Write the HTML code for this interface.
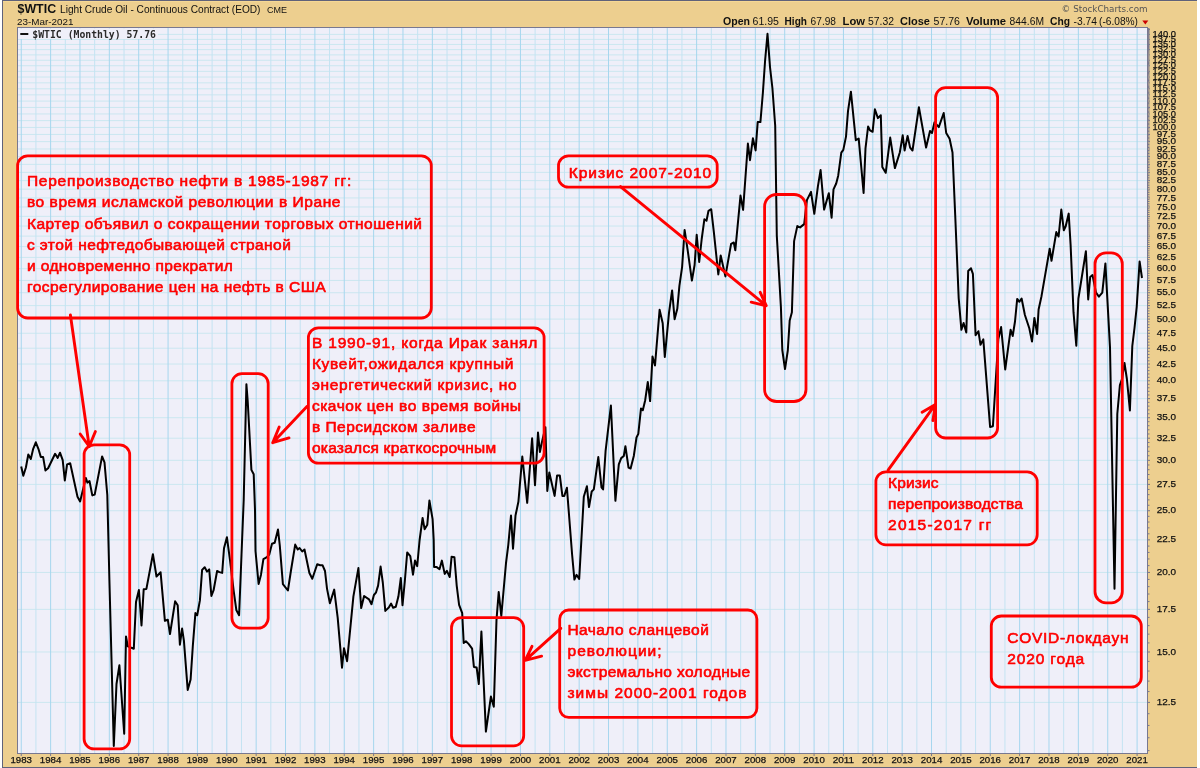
<!DOCTYPE html><html><head><meta charset="utf-8"><title>$WTIC Light Crude Oil</title><style>
html,body{margin:0;padding:0;background:#fff;width:1200px;height:768px;overflow:hidden}
svg{display:block}
.ax{font-family:"Liberation Sans",Arial,sans-serif;font-size:9.3px;fill:#111;stroke:#111;stroke-width:0.25px}
.hd{font-family:"Liberation Sans",Arial,sans-serif;fill:#111}
.ann{font-family:"Liberation Sans",Arial,sans-serif;font-weight:normal;font-size:15.5px;fill:#ff0000;stroke:#ff0000;stroke-width:0.62px;stroke-linejoin:round}
.box{fill:none;stroke:#ff0000;stroke-width:2.8}
.arr{fill:none;stroke:#ff0000;stroke-width:2.9;stroke-linecap:round;stroke-linejoin:round}
</style></head><body>
<svg width="1200" height="768" viewBox="0 0 1200 768">
<rect x="0" y="0" width="1200" height="768" fill="#ffffff"/>
<rect x="2" y="0" width="1195" height="768" fill="#EDCF8F"/>
<rect x="3" y="1" width="1194" height="1" fill="#F6D894"/>
<rect x="2" y="0" width="1195" height="1" fill="#60627a"/>
<rect x="2" y="767" width="1195" height="1" fill="#60627a"/>
<rect x="2" y="0" width="1" height="768" fill="#60627a"/>
<rect x="17" y="27" width="1130" height="726" fill="#EFEFF9"/>
<path d="M18 702.40H1147M18 651.99H1147M18 609.37H1147M18 572.44H1147M18 539.88H1147M18 510.74H1147M18 484.39H1147M18 460.33H1147M18 438.20H1147M18 417.71H1147M18 398.63H1147M18 380.79H1147M18 364.03H1147M18 348.22H1147M18 333.27H1147M18 319.09H1147M18 305.60H1147M18 292.74H1147M18 280.45H1147M18 268.68H1147M18 257.39H1147M18 246.55H1147M18 236.11H1147M18 226.06H1147M18 216.35H1147M18 206.98H1147M18 197.91H1147M18 189.13H1147M18 180.63H1147M18 172.37H1147M18 164.36H1147M18 156.57H1147M18 148.99H1147M18 141.62H1147M18 134.43H1147M18 127.43H1147M18 120.61H1147M18 113.94H1147M18 107.44H1147M18 101.08H1147M18 94.87H1147M18 88.79H1147M18 82.84H1147M18 77.02H1147M18 71.32H1147M18 65.74H1147M18 60.26H1147M18 54.89H1147M18 49.62H1147M18 44.46H1147M18 39.38H1147M18 34.40H1147" stroke="#CBE7F0" stroke-width="1" fill="none"/>
<path d="M35.93 28V753M65.30 28V753M94.66 28V753M124.02 28V753M153.39 28V753M182.75 28V753M212.12 28V753M241.48 28V753M270.84 28V753M300.21 28V753M329.57 28V753M358.94 28V753M388.30 28V753M417.66 28V753M447.03 28V753M476.39 28V753M505.76 28V753M535.12 28V753M564.48 28V753M593.85 28V753M623.21 28V753M652.58 28V753M681.94 28V753M711.30 28V753M740.67 28V753M770.03 28V753M799.40 28V753M828.76 28V753M858.12 28V753M887.49 28V753M916.85 28V753M946.22 28V753M975.58 28V753M1004.94 28V753M1034.31 28V753M1063.67 28V753M1093.04 28V753M1122.40 28V753" stroke="#C4E3F2" stroke-width="1" fill="none"/>
<path d="M21.25 28V753M50.61 28V753M79.98 28V753M109.34 28V753M138.71 28V753M168.07 28V753M197.43 28V753M226.80 28V753M256.16 28V753M285.53 28V753M314.89 28V753M344.25 28V753M373.62 28V753M402.98 28V753M432.35 28V753M461.71 28V753M491.07 28V753M520.44 28V753M549.80 28V753M579.17 28V753M608.53 28V753M637.89 28V753M667.26 28V753M696.62 28V753M725.99 28V753M755.35 28V753M784.71 28V753M814.08 28V753M843.44 28V753M872.81 28V753M902.17 28V753M931.53 28V753M960.90 28V753M990.26 28V753M1019.63 28V753M1048.99 28V753M1078.35 28V753M1107.72 28V753M1137.08 28V753" stroke="#A6D6EE" stroke-width="1" fill="none"/>
<rect x="17.5" y="27.5" width="1130" height="726" fill="none" stroke="#787890" stroke-width="1"/>
<path d="M1148 750.61h1.5M1148 737.75h1.5M1148 725.46h1.5M1148 713.69h1.5M1148 702.40h2M1148 691.56h1.5M1148 681.12h1.5M1148 671.06h1.5M1148 661.36h1.5M1148 651.99h2M1148 642.92h1.5M1148 634.14h1.5M1148 625.63h1.5M1148 617.38h1.5M1148 609.37h2M1148 601.58h1.5M1148 594.00h1.5M1148 586.63h1.5M1148 579.44h1.5M1148 572.44h2M1148 565.62h1.5M1148 558.95h1.5M1148 552.45h1.5M1148 546.09h1.5M1148 539.88h2M1148 533.80h1.5M1148 527.85h1.5M1148 522.03h1.5M1148 516.33h1.5M1148 510.74h2M1148 505.27h1.5M1148 499.90h1.5M1148 494.63h1.5M1148 489.47h1.5M1148 484.39h2M1148 479.41h1.5M1148 474.52h1.5M1148 469.71h1.5M1148 464.98h1.5M1148 460.33h2M1148 455.76h1.5M1148 451.27h1.5M1148 446.84h1.5M1148 442.49h1.5M1148 438.20h2M1148 433.98h1.5M1148 429.82h1.5M1148 425.73h1.5M1148 421.69h1.5M1148 417.71h2M1148 413.79h1.5M1148 409.92h1.5M1148 406.11h1.5M1148 402.35h1.5M1148 398.63h2M1148 394.97h1.5M1148 391.36h1.5M1148 387.79h1.5M1148 384.27h1.5M1148 380.79h2M1148 377.35h1.5M1148 373.96h1.5M1148 370.61h1.5M1148 367.30h1.5M1148 364.03h2M1148 360.79h1.5M1148 357.60h1.5M1148 354.44h1.5M1148 351.31h1.5M1148 348.22h2M1148 345.17h1.5M1148 342.14h1.5M1148 339.16h1.5M1148 336.20h1.5M1148 333.27h2M1148 330.38h1.5M1148 327.51h1.5M1148 324.68h1.5M1148 321.87h1.5M1148 319.09h2M1148 316.34h1.5M1148 313.61h1.5M1148 310.92h1.5M1148 308.25h1.5M1148 305.60h2M1148 302.98h1.5M1148 300.38h1.5M1148 297.81h1.5M1148 295.26h1.5M1148 292.74h2M1148 290.23h1.5M1148 287.75h1.5M1148 285.30h1.5M1148 282.86h1.5M1148 280.45h2M1148 278.05h1.5M1148 275.68h1.5M1148 273.32h1.5M1148 270.99h1.5M1148 268.68h2M1148 266.38h1.5M1148 264.11h1.5M1148 261.85h1.5M1148 259.61h1.5M1148 257.39h2M1148 255.19h1.5M1148 253.00h1.5M1148 250.83h1.5M1148 248.68h1.5M1148 246.55h2M1148 244.43h1.5M1148 242.32h1.5M1148 240.24h1.5M1148 238.17h1.5M1148 236.11h2M1148 234.07h1.5M1148 232.04h1.5M1148 230.03h1.5M1148 228.04h1.5M1148 226.06h2M1148 224.09h1.5M1148 222.13h1.5M1148 220.19h1.5M1148 218.27h1.5M1148 216.35h2M1148 214.45h1.5M1148 212.56h1.5M1148 210.69h1.5M1148 208.83h1.5M1148 206.98h2M1148 205.14h1.5M1148 203.32h1.5M1148 201.50h1.5M1148 199.70h1.5M1148 197.91h2M1148 196.13h1.5M1148 194.37h1.5M1148 192.61h1.5M1148 190.87h1.5M1148 189.13h2M1148 187.41h1.5M1148 185.70h1.5M1148 184.00h1.5M1148 182.31h1.5M1148 180.63h2M1148 178.95h1.5M1148 177.29h1.5M1148 175.64h1.5M1148 174.00h1.5M1148 172.37h2M1148 170.75h1.5M1148 169.14h1.5M1148 167.53h1.5M1148 165.94h1.5M1148 164.36h2M1148 162.78h1.5M1148 161.21h1.5M1148 159.66h1.5M1148 158.11h1.5M1148 156.57h2M1148 155.03h1.5M1148 153.51h1.5M1148 152.00h1.5M1148 150.49h1.5M1148 148.99h2M1148 147.50h1.5M1148 146.02h1.5M1148 144.54h1.5M1148 143.08h1.5M1148 141.62h2M1148 140.17h1.5M1148 138.72h1.5M1148 137.29h1.5M1148 135.86h1.5M1148 134.43h2M1148 133.02h1.5M1148 131.61h1.5M1148 130.21h1.5M1148 128.82h1.5M1148 127.43h2M1148 126.06h1.5M1148 124.68h1.5M1148 123.32h1.5M1148 121.96h1.5M1148 120.61h2M1148 119.26h1.5M1148 117.92h1.5M1148 116.59h1.5M1148 115.26h1.5M1148 113.94h2M1148 112.63h1.5M1148 111.32h1.5M1148 110.02h1.5M1148 108.73h1.5M1148 107.44h2M1148 106.15h1.5M1148 104.88h1.5M1148 103.61h1.5M1148 102.34h1.5M1148 101.08h2M1148 99.83h1.5M1148 98.58h1.5M1148 97.34h1.5M1148 96.10h1.5M1148 94.87h2M1148 93.64h1.5M1148 92.42h1.5M1148 91.21h1.5M1148 90.00h1.5M1148 88.79h2M1148 87.59h1.5M1148 86.40h1.5M1148 85.21h1.5M1148 84.02h1.5M1148 82.84h2M1148 81.67h1.5M1148 80.50h1.5M1148 79.34h1.5M1148 78.18h1.5M1148 77.02h2M1148 75.87h1.5M1148 74.73h1.5M1148 73.59h1.5M1148 72.45h1.5M1148 71.32h2M1148 70.19h1.5M1148 69.07h1.5M1148 67.96h1.5M1148 66.84h1.5M1148 65.74h2M1148 64.63h1.5M1148 63.53h1.5M1148 62.44h1.5M1148 61.35h1.5M1148 60.26h2M1148 59.18h1.5M1148 58.10h1.5M1148 57.03h1.5M1148 55.96h1.5M1148 54.89h2M1148 53.83h1.5M1148 52.77h1.5M1148 51.72h1.5M1148 50.67h1.5M1148 49.62h2M1148 48.58h1.5M1148 47.54h1.5M1148 46.51h1.5M1148 45.48h1.5M1148 44.46h2M1148 43.43h1.5M1148 42.41h1.5M1148 41.40h1.5M1148 40.39h1.5M1148 39.38h2M1148 38.38h1.5M1148 37.38h1.5M1148 36.38h1.5M1148 35.39h1.5M1148 34.40h2M1148 33.41h1.5M1148 32.43h1.5M1148 31.45h1.5M1148 30.48h1.5M1148 29.51h2M1148 28.54h1.5" stroke="#787890" stroke-width="1" fill="none"/>
<text class="ax" x="1176" y="705.00" text-anchor="end" textLength="19.3" lengthAdjust="spacingAndGlyphs">12.5</text><text class="ax" x="1176" y="654.59" text-anchor="end" textLength="19.3" lengthAdjust="spacingAndGlyphs">15.0</text><text class="ax" x="1176" y="611.97" text-anchor="end" textLength="19.3" lengthAdjust="spacingAndGlyphs">17.5</text><text class="ax" x="1176" y="575.04" text-anchor="end" textLength="19.3" lengthAdjust="spacingAndGlyphs">20.0</text><text class="ax" x="1176" y="542.48" text-anchor="end" textLength="19.3" lengthAdjust="spacingAndGlyphs">22.5</text><text class="ax" x="1176" y="513.34" text-anchor="end" textLength="19.3" lengthAdjust="spacingAndGlyphs">25.0</text><text class="ax" x="1176" y="486.99" text-anchor="end" textLength="19.3" lengthAdjust="spacingAndGlyphs">27.5</text><text class="ax" x="1176" y="462.93" text-anchor="end" textLength="19.3" lengthAdjust="spacingAndGlyphs">30.0</text><text class="ax" x="1176" y="440.80" text-anchor="end" textLength="19.3" lengthAdjust="spacingAndGlyphs">32.5</text><text class="ax" x="1176" y="420.31" text-anchor="end" textLength="19.3" lengthAdjust="spacingAndGlyphs">35.0</text><text class="ax" x="1176" y="401.23" text-anchor="end" textLength="19.3" lengthAdjust="spacingAndGlyphs">37.5</text><text class="ax" x="1176" y="383.39" text-anchor="end" textLength="19.3" lengthAdjust="spacingAndGlyphs">40.0</text><text class="ax" x="1176" y="366.63" text-anchor="end" textLength="19.3" lengthAdjust="spacingAndGlyphs">42.5</text><text class="ax" x="1176" y="350.82" text-anchor="end" textLength="19.3" lengthAdjust="spacingAndGlyphs">45.0</text><text class="ax" x="1176" y="335.87" text-anchor="end" textLength="19.3" lengthAdjust="spacingAndGlyphs">47.5</text><text class="ax" x="1176" y="321.69" text-anchor="end" textLength="19.3" lengthAdjust="spacingAndGlyphs">50.0</text><text class="ax" x="1176" y="308.20" text-anchor="end" textLength="19.3" lengthAdjust="spacingAndGlyphs">52.5</text><text class="ax" x="1176" y="295.34" text-anchor="end" textLength="19.3" lengthAdjust="spacingAndGlyphs">55.0</text><text class="ax" x="1176" y="283.05" text-anchor="end" textLength="19.3" lengthAdjust="spacingAndGlyphs">57.5</text><text class="ax" x="1176" y="271.28" text-anchor="end" textLength="19.3" lengthAdjust="spacingAndGlyphs">60.0</text><text class="ax" x="1176" y="259.99" text-anchor="end" textLength="19.3" lengthAdjust="spacingAndGlyphs">62.5</text><text class="ax" x="1176" y="249.15" text-anchor="end" textLength="19.3" lengthAdjust="spacingAndGlyphs">65.0</text><text class="ax" x="1176" y="238.71" text-anchor="end" textLength="19.3" lengthAdjust="spacingAndGlyphs">67.5</text><text class="ax" x="1176" y="228.66" text-anchor="end" textLength="19.3" lengthAdjust="spacingAndGlyphs">70.0</text><text class="ax" x="1176" y="218.95" text-anchor="end" textLength="19.3" lengthAdjust="spacingAndGlyphs">72.5</text><text class="ax" x="1176" y="209.58" text-anchor="end" textLength="19.3" lengthAdjust="spacingAndGlyphs">75.0</text><text class="ax" x="1176" y="200.51" text-anchor="end" textLength="19.3" lengthAdjust="spacingAndGlyphs">77.5</text><text class="ax" x="1176" y="191.73" text-anchor="end" textLength="19.3" lengthAdjust="spacingAndGlyphs">80.0</text><text class="ax" x="1176" y="183.23" text-anchor="end" textLength="19.3" lengthAdjust="spacingAndGlyphs">82.5</text><text class="ax" x="1176" y="174.97" text-anchor="end" textLength="19.3" lengthAdjust="spacingAndGlyphs">85.0</text><text class="ax" x="1176" y="166.96" text-anchor="end" textLength="19.3" lengthAdjust="spacingAndGlyphs">87.5</text><text class="ax" x="1176" y="159.17" text-anchor="end" textLength="19.3" lengthAdjust="spacingAndGlyphs">90.0</text><text class="ax" x="1176" y="151.59" text-anchor="end" textLength="19.3" lengthAdjust="spacingAndGlyphs">92.5</text><text class="ax" x="1176" y="144.22" text-anchor="end" textLength="19.3" lengthAdjust="spacingAndGlyphs">95.0</text><text class="ax" x="1176" y="137.03" text-anchor="end" textLength="19.3" lengthAdjust="spacingAndGlyphs">97.5</text><text class="ax" x="1176" y="130.03" text-anchor="end" textLength="23.4" lengthAdjust="spacingAndGlyphs">100.0</text><text class="ax" x="1176" y="123.21" text-anchor="end" textLength="23.4" lengthAdjust="spacingAndGlyphs">102.5</text><text class="ax" x="1176" y="116.54" text-anchor="end" textLength="23.4" lengthAdjust="spacingAndGlyphs">105.0</text><text class="ax" x="1176" y="110.04" text-anchor="end" textLength="23.4" lengthAdjust="spacingAndGlyphs">107.5</text><text class="ax" x="1176" y="103.68" text-anchor="end" textLength="23.4" lengthAdjust="spacingAndGlyphs">110.0</text><text class="ax" x="1176" y="97.47" text-anchor="end" textLength="23.4" lengthAdjust="spacingAndGlyphs">112.5</text><text class="ax" x="1176" y="91.39" text-anchor="end" textLength="23.4" lengthAdjust="spacingAndGlyphs">115.0</text><text class="ax" x="1176" y="85.44" text-anchor="end" textLength="23.4" lengthAdjust="spacingAndGlyphs">117.5</text><text class="ax" x="1176" y="79.62" text-anchor="end" textLength="23.4" lengthAdjust="spacingAndGlyphs">120.0</text><text class="ax" x="1176" y="73.92" text-anchor="end" textLength="23.4" lengthAdjust="spacingAndGlyphs">122.5</text><text class="ax" x="1176" y="68.34" text-anchor="end" textLength="23.4" lengthAdjust="spacingAndGlyphs">125.0</text><text class="ax" x="1176" y="62.86" text-anchor="end" textLength="23.4" lengthAdjust="spacingAndGlyphs">127.5</text><text class="ax" x="1176" y="57.49" text-anchor="end" textLength="23.4" lengthAdjust="spacingAndGlyphs">130.0</text><text class="ax" x="1176" y="52.22" text-anchor="end" textLength="23.4" lengthAdjust="spacingAndGlyphs">132.5</text><text class="ax" x="1176" y="47.06" text-anchor="end" textLength="23.4" lengthAdjust="spacingAndGlyphs">135.0</text><text class="ax" x="1176" y="41.98" text-anchor="end" textLength="23.4" lengthAdjust="spacingAndGlyphs">137.5</text><text class="ax" x="1176" y="37.00" text-anchor="end" textLength="23.4" lengthAdjust="spacingAndGlyphs">140.0</text>
<path d="M21.25 754v2M50.61 754v2M79.98 754v2M109.34 754v2M138.71 754v2M168.07 754v2M197.43 754v2M226.80 754v2M256.16 754v2M285.53 754v2M314.89 754v2M344.25 754v2M373.62 754v2M402.98 754v2M432.35 754v2M461.71 754v2M491.07 754v2M520.44 754v2M549.80 754v2M579.17 754v2M608.53 754v2M637.89 754v2M667.26 754v2M696.62 754v2M725.99 754v2M755.35 754v2M784.71 754v2M814.08 754v2M843.44 754v2M872.81 754v2M902.17 754v2M931.53 754v2M960.90 754v2M990.26 754v2M1019.63 754v2M1048.99 754v2M1078.35 754v2M1107.72 754v2M1137.08 754v2" stroke="#787890" stroke-width="1" fill="none"/>
<text class="ax" x="10.50" y="763" font-size="10.2" textLength="21.5" lengthAdjust="spacingAndGlyphs">1983</text><text class="ax" x="39.86" y="763" font-size="10.2" textLength="21.5" lengthAdjust="spacingAndGlyphs">1984</text><text class="ax" x="69.23" y="763" font-size="10.2" textLength="21.5" lengthAdjust="spacingAndGlyphs">1985</text><text class="ax" x="98.59" y="763" font-size="10.2" textLength="21.5" lengthAdjust="spacingAndGlyphs">1986</text><text class="ax" x="127.96" y="763" font-size="10.2" textLength="21.5" lengthAdjust="spacingAndGlyphs">1987</text><text class="ax" x="157.32" y="763" font-size="10.2" textLength="21.5" lengthAdjust="spacingAndGlyphs">1988</text><text class="ax" x="186.68" y="763" font-size="10.2" textLength="21.5" lengthAdjust="spacingAndGlyphs">1989</text><text class="ax" x="216.05" y="763" font-size="10.2" textLength="21.5" lengthAdjust="spacingAndGlyphs">1990</text><text class="ax" x="245.41" y="763" font-size="10.2" textLength="21.5" lengthAdjust="spacingAndGlyphs">1991</text><text class="ax" x="274.78" y="763" font-size="10.2" textLength="21.5" lengthAdjust="spacingAndGlyphs">1992</text><text class="ax" x="304.14" y="763" font-size="10.2" textLength="21.5" lengthAdjust="spacingAndGlyphs">1993</text><text class="ax" x="333.50" y="763" font-size="10.2" textLength="21.5" lengthAdjust="spacingAndGlyphs">1994</text><text class="ax" x="362.87" y="763" font-size="10.2" textLength="21.5" lengthAdjust="spacingAndGlyphs">1995</text><text class="ax" x="392.23" y="763" font-size="10.2" textLength="21.5" lengthAdjust="spacingAndGlyphs">1996</text><text class="ax" x="421.60" y="763" font-size="10.2" textLength="21.5" lengthAdjust="spacingAndGlyphs">1997</text><text class="ax" x="450.96" y="763" font-size="10.2" textLength="21.5" lengthAdjust="spacingAndGlyphs">1998</text><text class="ax" x="480.32" y="763" font-size="10.2" textLength="21.5" lengthAdjust="spacingAndGlyphs">1999</text><text class="ax" x="509.69" y="763" font-size="10.2" textLength="21.5" lengthAdjust="spacingAndGlyphs">2000</text><text class="ax" x="539.05" y="763" font-size="10.2" textLength="21.5" lengthAdjust="spacingAndGlyphs">2001</text><text class="ax" x="568.42" y="763" font-size="10.2" textLength="21.5" lengthAdjust="spacingAndGlyphs">2002</text><text class="ax" x="597.78" y="763" font-size="10.2" textLength="21.5" lengthAdjust="spacingAndGlyphs">2003</text><text class="ax" x="627.14" y="763" font-size="10.2" textLength="21.5" lengthAdjust="spacingAndGlyphs">2004</text><text class="ax" x="656.51" y="763" font-size="10.2" textLength="21.5" lengthAdjust="spacingAndGlyphs">2005</text><text class="ax" x="685.87" y="763" font-size="10.2" textLength="21.5" lengthAdjust="spacingAndGlyphs">2006</text><text class="ax" x="715.24" y="763" font-size="10.2" textLength="21.5" lengthAdjust="spacingAndGlyphs">2007</text><text class="ax" x="744.60" y="763" font-size="10.2" textLength="21.5" lengthAdjust="spacingAndGlyphs">2008</text><text class="ax" x="773.96" y="763" font-size="10.2" textLength="21.5" lengthAdjust="spacingAndGlyphs">2009</text><text class="ax" x="803.33" y="763" font-size="10.2" textLength="21.5" lengthAdjust="spacingAndGlyphs">2010</text><text class="ax" x="832.69" y="763" font-size="10.2" textLength="21.5" lengthAdjust="spacingAndGlyphs">2011</text><text class="ax" x="862.06" y="763" font-size="10.2" textLength="21.5" lengthAdjust="spacingAndGlyphs">2012</text><text class="ax" x="891.42" y="763" font-size="10.2" textLength="21.5" lengthAdjust="spacingAndGlyphs">2013</text><text class="ax" x="920.78" y="763" font-size="10.2" textLength="21.5" lengthAdjust="spacingAndGlyphs">2014</text><text class="ax" x="950.15" y="763" font-size="10.2" textLength="21.5" lengthAdjust="spacingAndGlyphs">2015</text><text class="ax" x="979.51" y="763" font-size="10.2" textLength="21.5" lengthAdjust="spacingAndGlyphs">2016</text><text class="ax" x="1008.88" y="763" font-size="10.2" textLength="21.5" lengthAdjust="spacingAndGlyphs">2017</text><text class="ax" x="1038.24" y="763" font-size="10.2" textLength="21.5" lengthAdjust="spacingAndGlyphs">2018</text><text class="ax" x="1067.60" y="763" font-size="10.2" textLength="21.5" lengthAdjust="spacingAndGlyphs">2019</text><text class="ax" x="1096.97" y="763" font-size="10.2" textLength="21.5" lengthAdjust="spacingAndGlyphs">2020</text><text class="ax" x="1126.33" y="763" font-size="10.2" textLength="21.5" lengthAdjust="spacingAndGlyphs">2021</text>
<text class="hd" x="17.5" y="13" font-weight="bold" font-size="12.8" textLength="38.6" lengthAdjust="spacingAndGlyphs">$WTIC</text>
<text class="hd" x="60" y="13" font-size="10.3" textLength="200.5" lengthAdjust="spacingAndGlyphs">Light Crude Oil - Continuous Contract (EOD)</text>
<text class="hd" x="267" y="13" font-size="9.4" textLength="20" lengthAdjust="spacingAndGlyphs" fill="#111">CME</text>
<text class="hd" x="17" y="25" font-size="9.8" textLength="56.5" lengthAdjust="spacingAndGlyphs" fill="#000">23-Mar-2021</text>
<text x="1061.6" y="12.4" font-family="DejaVu Sans,sans-serif" font-size="8.6" fill="#555" textLength="86" lengthAdjust="spacingAndGlyphs">© StockCharts.com</text>
<text class="hd" x="723" y="24.5" font-size="10.6" font-weight="bold" textLength="27.0" lengthAdjust="spacingAndGlyphs">Open</text>
<text class="hd" x="752.6" y="24.5" font-size="10.4" textLength="26.4" lengthAdjust="spacingAndGlyphs">61.95</text>
<text class="hd" x="784.6" y="24.5" font-size="10.6" font-weight="bold" textLength="22.4" lengthAdjust="spacingAndGlyphs">High</text>
<text class="hd" x="810.6" y="24.5" font-size="10.4" textLength="25.4" lengthAdjust="spacingAndGlyphs">67.98</text>
<text class="hd" x="842.6" y="24.5" font-size="10.6" font-weight="bold" textLength="22.4" lengthAdjust="spacingAndGlyphs">Low</text>
<text class="hd" x="868" y="24.5" font-size="10.4" textLength="26.0" lengthAdjust="spacingAndGlyphs">57.32</text>
<text class="hd" x="900" y="24.5" font-size="10.6" font-weight="bold" textLength="30.0" lengthAdjust="spacingAndGlyphs">Close</text>
<text class="hd" x="933.6" y="24.5" font-size="10.4" textLength="26.4" lengthAdjust="spacingAndGlyphs">57.76</text>
<text class="hd" x="966" y="24.5" font-size="10.6" font-weight="bold" textLength="40.0" lengthAdjust="spacingAndGlyphs">Volume</text>
<text class="hd" x="1009.6" y="24.5" font-size="10.4" textLength="34.4" lengthAdjust="spacingAndGlyphs">844.6M</text>
<text class="hd" x="1050" y="24.5" font-size="10.6" font-weight="bold" textLength="20.0" lengthAdjust="spacingAndGlyphs">Chg</text>
<text class="hd" x="1073.6" y="24.5" font-size="10.4" textLength="23.4" lengthAdjust="spacingAndGlyphs">-3.74</text>
<text class="hd" x="1099" y="24.5" font-size="10.4" textLength="39.0" lengthAdjust="spacingAndGlyphs">(-6.08%)</text>
<path d="M1142.3 20.5h6l-3 4z" fill="#cc0000"/>
<rect x="18" y="28.5" width="140" height="10.5" fill="#EFEFF9"/>
<rect x="20.3" y="33" width="8" height="2" fill="#111"/>
<text x="32.3" y="37.7" font-family="DejaVu Sans Mono,Liberation Mono,monospace" font-weight="bold" font-size="9.7" fill="#2a2a2a" textLength="123.7" lengthAdjust="spacingAndGlyphs">$WTIC (Monthly) 57.76</text>
<polyline points="21.2,466.5 23.3,475.8 25.9,467.5 28.3,454.5 30.8,459.0 33.2,448.8 35.8,442.3 38.4,448.8 40.8,456.9 43.1,456.9 45.4,470.4 48.1,468.3 55.1,453.8 57.7,457.9 60.0,452.7 62.7,460.2 64.8,480.5 67.1,464.4 70.2,463.3 77.5,496.7 80.1,501.4 85.8,477.9 87.4,482.6 89.5,481.0 92.3,495.4 94.7,494.6 102.1,456.4 104.5,462.3 107.3,495.0 109.4,580.0 113.8,746.0 116.5,684.0 119.4,665.2 124.2,733.8 126.0,636.5 127.8,646.4 133.8,648.7 136.0,602.0 138.9,590.0 141.5,625.4 143.7,589.3 146.4,588.9 152.9,554.2 156.5,576.5 160.6,572.3 164.9,620.8 167.8,619.7 170.0,634.1 175.1,601.3 177.7,605.3 179.9,644.7 182.1,628.6 183.9,640.7 187.7,689.9 190.6,679.5 192.8,646.3 195.4,613.1 197.2,615.3 199.9,600.4 202.1,569.9 204.7,567.2 207.0,571.6 209.2,569.4 211.4,596.0 213.6,590.2 217.1,571.0 219.4,572.1 222.2,572.9 224.0,548.3 226.9,537.2 230.0,560.2 233.7,591.1 236.4,610.3 239.1,615.2 241.5,554.7 243.7,500.0 246.4,384.2 247.7,401.0 251.4,469.9 253.7,474.3 255.0,510.0 255.5,551.0 258.6,583.9 261.0,574.7 263.4,559.2 266.5,557.4 269.2,554.7 272.0,543.7 274.7,542.8 278.0,529.5 279.8,545.6 282.9,584.2 287.9,590.5 290.9,571.0 295.2,544.6 297.7,549.5 299.6,548.0 302.2,551.5 304.5,549.5 309.4,573.0 312.3,578.8 317.2,564.2 320.2,565.2 322.5,565.2 325.0,571.0 327.0,588.6 329.9,603.2 334.2,589.6 337.7,617.9 342.0,667.7 344.0,648.2 347.1,661.2 353.4,596.4 358.4,568.1 361.2,608.1 364.1,596.0 369.0,599.3 371.5,604.2 373.9,595.0 375.9,592.7 378.1,585.6 380.6,566.6 382.8,582.5 385.3,610.9 388.8,607.5 391.1,603.6 393.1,607.8 395.8,606.7 398.4,596.6 400.8,578.1 402.5,605.2 404.7,582.5 407.2,552.5 410.3,556.2 413.0,574.7 415.0,560.6 417.2,566.1 419.6,540.0 422.6,517.9 424.6,529.2 427.3,524.7 429.4,500.5 432.6,519.2 433.7,540.0 434.1,566.9 436.4,566.9 439.5,569.2 441.9,560.6 444.7,573.9 446.9,570.8 449.7,577.0 451.6,556.7 454.4,557.2 456.7,585.6 459.1,604.9 462.2,613.2 463.7,643.0 465.9,641.3 468.8,644.1 472.1,648.6 473.9,666.9 476.6,667.4 478.8,684.0 481.4,631.5 485.9,731.6 490.9,696.6 493.8,706.8 496.5,619.8 498.7,592.1 501.3,616.0 506.0,563.2 508.3,544.8 511.0,515.5 513.0,548.7 515.5,515.5 518.4,501.8 522.3,456.5 527.2,502.8 532.1,438.3 535.0,485.2 538.0,432.5 539.9,452.0 541.9,442.2 545.4,427.2 547.3,491.0 549.3,472.5 554.6,495.9 557.1,475.4 559.8,475.4 562.4,495.9 564.3,495.9 566.9,487.7 572.1,554.5 574.4,579.6 576.5,574.8 579.2,579.0 583.8,496.7 586.9,486.2 589.0,507.1 591.7,491.5 593.8,489.4 598.3,457.1 601.5,487.3 603.1,489.4 605.6,450.8 610.9,405.6 615.4,500.8 618.8,464.4 621.2,458.1 623.8,456.0 625.4,446.2 628.5,467.5 630.6,468.5 633.8,456.0 636.5,437.5 638.3,433.9 641.0,408.4 642.8,410.2 645.2,400.2 647.8,382.0 650.1,401.1 652.5,356.4 655.0,365.5 659.6,309.8 662.7,323.3 664.8,357.0 669.0,312.9 672.1,290.4 674.6,319.2 677.3,308.8 679.4,285.8 682.1,267.1 684.6,230.0 687.7,250.4 691.9,280.6 694.6,265.0 696.7,234.8 699.2,261.9 701.7,239.0 704.4,219.2 706.5,220.8 708.5,210.8 711.2,209.2 713.8,231.7 718.3,274.4 720.7,255.5 725.4,276.4 731.1,243.8 733.8,242.5 735.3,250.3 740.5,195.6 743.1,209.9 747.9,143.5 750.0,160.2 752.9,138.3 755.6,150.4 757.7,122.1 760.4,122.1 762.9,92.5 765.1,60.5 767.5,33.8 770.0,67.0 772.4,88.0 775.2,125.8 776.8,235.6 780.9,306.7 782.3,350.0 785.0,369.1 787.8,350.5 789.7,320.4 791.9,312.2 794.1,241.1 797.3,226.1 800.1,227.4 804.2,224.1 806.9,200.1 811.0,191.9 814.3,213.8 817.9,186.4 820.6,170.0 824.1,209.6 828.8,193.2 831.6,217.7 833.5,189.4 836.2,183.5 838.2,175.7 841.3,152.7 843.3,149.9 846.0,136.6 848.0,111.2 850.9,91.7 855.8,140.2 858.7,138.6 863.6,192.9 865.5,148.4 868.1,126.5 870.0,130.4 872.6,131.8 874.9,109.3 877.9,118.1 880.8,115.2 882.3,166.9 885.7,172.8 890.2,137.6 894.9,168.1 899.8,152.5 902.7,135.3 904.6,150.5 907.6,135.9 910.1,147.6 912.5,150.5 918.9,107.2 926.1,147.6 930.0,131.0 932.0,133.0 934.5,122.2 938.8,127.1 943.7,113.0 946.2,133.0 949.6,138.8 952.5,152.5 955.2,215.0 958.7,298.4 961.4,329.8 963.6,323.0 966.3,332.5 968.2,271.0 971.0,268.3 972.9,273.8 975.6,335.3 978.4,331.2 980.5,344.8 983.3,339.4 990.1,426.9 992.9,426.3 998.3,339.4 1001.1,327.1 1005.2,369.5 1010.6,329.8 1012.7,336.0 1015.0,321.5 1017.2,298.9 1019.4,301.8 1021.6,298.5 1024.9,315.0 1029.3,328.3 1032.0,341.6 1034.4,317.9 1037.1,333.9 1038.6,309.5 1041.5,296.2 1049.7,248.7 1051.5,260.8 1056.3,232.1 1058.6,236.5 1061.3,209.5 1063.8,230.2 1065.7,226.2 1068.7,213.6 1070.6,244.8 1073.5,312.2 1076.3,345.7 1078.4,298.5 1085.9,251.2 1088.2,299.5 1090.2,277.0 1092.5,275.1 1096.0,292.6 1098.9,296.6 1102.3,292.6 1105.4,263.4 1110.0,347.4 1114.5,588.8 1117.3,414.0 1119.9,385.0 1122.0,379.0 1124.5,363.0 1126.9,379.0 1129.9,410.5 1132.3,346.0 1134.5,328.0 1136.7,307.0 1139.6,261.5 1142.0,278.0" fill="none" stroke="#000" stroke-width="2" stroke-linejoin="round"/>
<rect class="box" x="17.6" y="155.9" width="413.7" height="162.1" rx="10" ry="10"/>
<text class="ann" x="26.9" y="186.0" textLength="324.4" lengthAdjust="spacing">Перепроизводство нефти в 1985-1987 гг:</text>
<text class="ann" x="26.9" y="207.26" textLength="313.5" lengthAdjust="spacing">во время исламской революции в Иране</text>
<text class="ann" x="26.9" y="228.52" textLength="395.1" lengthAdjust="spacing">Картер объявил о сокращении торговых отношений</text>
<text class="ann" x="26.9" y="249.78" textLength="263.9" lengthAdjust="spacing">с этой нефтедобывающей страной</text>
<text class="ann" x="26.9" y="271.04" textLength="206" lengthAdjust="spacing">и одновременно прекратил</text>
<text class="ann" x="26.9" y="292.3" textLength="298.9" lengthAdjust="spacing">госрегулирование цен на нефть в США</text>
<path class="arr" d="M70.4 315L89.2 446.5M80.2 434L89.2 446.5L95.4 431.5"/>
<rect class="box" x="84.1" y="444.8" width="45.6" height="304.1" rx="10" ry="10"/>
<rect class="box" x="231.9" y="373.7" width="36.3" height="254.4" rx="10" ry="10"/>
<rect class="box" x="308.4" y="327.8" width="235.7" height="135.3" rx="10" ry="10"/>
<text class="ann" x="311.9" y="347.7" textLength="225.4" lengthAdjust="spacing">В 1990-91, когда Ирак занял</text>
<text class="ann" x="311.9" y="368.8" textLength="201.5" lengthAdjust="spacing">Кувейт,ожидался крупный</text>
<text class="ann" x="311.9" y="389.9" textLength="204.8" lengthAdjust="spacing">энергетический кризис, но</text>
<text class="ann" x="311.9" y="411.0" textLength="209.1" lengthAdjust="spacing">скачок цен во время войны</text>
<text class="ann" x="311.9" y="432.1" textLength="163.6" lengthAdjust="spacing">в Персидском заливе</text>
<text class="ann" x="311.9" y="453.2" textLength="184.2" lengthAdjust="spacing">оказался краткосрочным</text>
<path class="arr" d="M307.2 406.2L272.7 442.7M279.2 427L272.7 442.7L289 437.9"/>
<rect class="box" x="558.5" y="155.9" width="158.7" height="31.3" rx="10" ry="10"/>
<text class="ann" x="568.75" y="178.2" textLength="142.45" lengthAdjust="spacing">Кризис 2007-2010</text>
<path class="arr" d="M620.5 186.6L766.2 305.7M751.2 302.2L766.2 305.7L760.2 292.3"/>
<rect class="box" x="764.6" y="194.5" width="41.4" height="207.0" rx="12" ry="12"/>
<rect class="box" x="935.6" y="87.7" width="62.0" height="350.3" rx="10" ry="10"/>
<rect class="box" x="875.9" y="471.8" width="161.3" height="73.0" rx="10" ry="10"/>
<text class="ann" x="888.1" y="487.8" textLength="50.4" lengthAdjust="spacing">Кризис</text>
<text class="ann" x="888.1" y="508.9" textLength="134.7" lengthAdjust="spacing">перепроизводства</text>
<text class="ann" x="888.1" y="530" textLength="103.1" lengthAdjust="spacing">2015-2017 гг</text>
<path class="arr" d="M888.1 470.2L935.4 404.4M922.1 412.2L935.4 404.4L932.9 420.5"/>
<rect class="box" x="559.7" y="610" width="197.2" height="107.3" rx="9" ry="9"/>
<text class="ann" x="567.5" y="635.0" textLength="141.3" lengthAdjust="spacing">Начало сланцевой</text>
<text class="ann" x="567.5" y="656.1" textLength="94.1" lengthAdjust="spacing">революции;</text>
<text class="ann" x="567.5" y="677.2" textLength="182.7" lengthAdjust="spacing">экстремально холодные</text>
<text class="ann" x="567.5" y="698.3" textLength="178.9" lengthAdjust="spacing">зимы 2000-2001 годов</text>
<path class="arr" d="M560.8 628.3L525.2 660.3M532 646.3L525.2 660.3L541.6 656.2"/>
<rect class="box" x="451.5" y="617.7" width="72.2" height="128.1" rx="10" ry="10"/>
<rect class="box" x="1095" y="252.9" width="27.3" height="349.9" rx="11" ry="11"/>
<rect class="box" x="991.3" y="616" width="150.0" height="71.2" rx="10" ry="10"/>
<text class="ann" x="1007.3" y="642.9" textLength="121.2" lengthAdjust="spacing">COVID-локдаун</text>
<text class="ann" x="1007.3" y="663.9" textLength="76.9" lengthAdjust="spacing">2020 года</text>
</svg></body></html>
